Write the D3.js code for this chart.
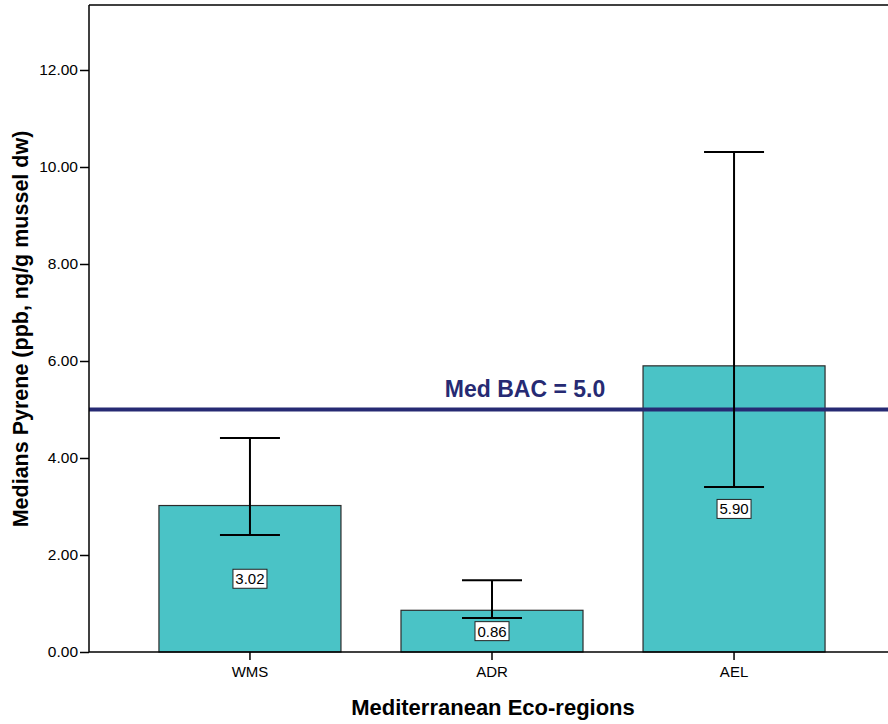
<!DOCTYPE html>
<html><head><meta charset="utf-8">
<script src="https://cdn.jsdelivr.net/npm/d3@7"></script>
<style>body{margin:0;background:#fff;} text{font-family:"Liberation Sans",Arial,sans-serif;}</style>
</head><body><svg id="c" width="888" height="724"></svg>
<script>
const categories = ["WMS", "ADR", "AEL"];
const medians = [3.02, 0.86, 5.90];
const errLow = [2.41, 0.70, 3.40];
const errHigh = [4.41, 1.48, 10.31];
const yTicks = [0, 2, 4, 6, 8, 10, 12];
const bacValue = 5.0;
const bacLabel = "Med BAC = 5.0";
const yTitle = "Medians Pyrene (ppb, ng/g mussel dw)";
const xTitle = "Mediterranean Eco-regions";

const svg = d3.select("#c");
const mLeft = 89, mTop = 5, mBottom = 652, rightEdge = 895;
const y = d3.scaleLinear().domain([0, 13.34]).range([mBottom, mTop]);
const x = d3.scaleBand().domain(categories).range([mLeft, rightEdge]).paddingInner(0.248).paddingOuter(0.289);

// frame
svg.append("line").attr("x1", mLeft).attr("x2", 888).attr("y1", mTop).attr("y2", mTop).attr("stroke", "#000").attr("stroke-width", 1.5);

// bars
const data = categories.map((c, i) => ({c, v: medians[i], lo: errLow[i], hi: errHigh[i]}));
svg.selectAll("rect.bar").data(data).enter().append("rect")
  .attr("x", d => x(d.c)).attr("width", x.bandwidth())
  .attr("y", d => y(d.v)).attr("height", d => y(0) - y(d.v))
  .attr("fill", "#4ac3c6").attr("stroke", "#2b2b2b").attr("stroke-width", 1.2);

// BAC line
svg.append("line").attr("x1", mLeft).attr("x2", 888).attr("y1", y(bacValue)).attr("y2", y(bacValue))
  .attr("stroke", "#262a73").attr("stroke-width", 4);
svg.append("text").attr("x", 525).attr("y", y(bacValue) - 12).attr("text-anchor", "middle")
  .attr("font-size", 23).attr("font-weight", "bold").attr("fill", "#262a73").text(bacLabel);

// error bars
const capW = 60;
const eb = svg.selectAll("g.eb").data(data).enter().append("g").attr("stroke", "#000").attr("stroke-width", 2);
eb.append("line").attr("x1", d => x(d.c) + x.bandwidth()/2).attr("x2", d => x(d.c) + x.bandwidth()/2)
  .attr("y1", d => y(d.lo)).attr("y2", d => y(d.hi));
eb.append("line").attr("x1", d => x(d.c) + x.bandwidth()/2 - capW/2).attr("x2", d => x(d.c) + x.bandwidth()/2 + capW/2)
  .attr("y1", d => y(d.hi)).attr("y2", d => y(d.hi));
eb.append("line").attr("x1", d => x(d.c) + x.bandwidth()/2 - capW/2).attr("x2", d => x(d.c) + x.bandwidth()/2 + capW/2)
  .attr("y1", d => y(d.lo)).attr("y2", d => y(d.lo));

// value labels
const lab = svg.selectAll("g.lab").data(data).enter().append("g")
  .attr("transform", d => `translate(${x(d.c) + x.bandwidth()/2},${y(d.v/2)})`);
lab.append("rect").attr("x", -17).attr("y", -9.5).attr("width", 34).attr("height", 19)
  .attr("fill", "#fff").attr("stroke", "#222").attr("stroke-width", 1);
lab.append("text").attr("text-anchor", "middle").attr("dy", "0.36em").attr("font-size", 15)
  .attr("fill", "#000").text(d => d.v.toFixed(2));

// axes
const yAxis = d3.axisLeft(y).tickValues(yTicks).tickFormat(d3.format(".2f")).tickSize(9).tickPadding(2);
const gy = svg.append("g").attr("transform", `translate(${mLeft},0)`).call(yAxis);
gy.select(".domain").remove();
gy.selectAll("line").attr("stroke", "#000").attr("stroke-width", 1.5);
gy.selectAll("text").attr("font-size", 15.5).attr("fill", "#000").attr("font-family", "Liberation Sans, Arial, sans-serif");
svg.append("line").attr("x1", mLeft).attr("x2", mLeft).attr("y1", mTop).attr("y2", mBottom).attr("stroke", "#000").attr("stroke-width", 1.5);

const xAxis = d3.axisBottom(x).tickSize(8).tickPadding(6);
const gx = svg.append("g").attr("transform", `translate(0,${mBottom})`).call(xAxis);
gx.select(".domain").remove();
gx.selectAll("line").attr("stroke", "#000").attr("stroke-width", 1.5);
gx.selectAll("text").attr("font-size", 15).attr("fill", "#000").attr("font-family", "Liberation Sans, Arial, sans-serif");
svg.append("line").attr("x1", mLeft).attr("x2", 888).attr("y1", mBottom).attr("y2", mBottom).attr("stroke", "#000").attr("stroke-width", 1.5);

// titles
svg.append("text").attr("transform", "translate(28,329) rotate(-90)").attr("text-anchor", "middle")
  .attr("font-size", 21.5).attr("font-weight", "bold").attr("fill", "#000").text(yTitle);
svg.append("text").attr("x", 493).attr("y", 715).attr("text-anchor", "middle")
  .attr("font-size", 22).attr("font-weight", "bold").attr("fill", "#000").text(xTitle);
</script></body></html>
